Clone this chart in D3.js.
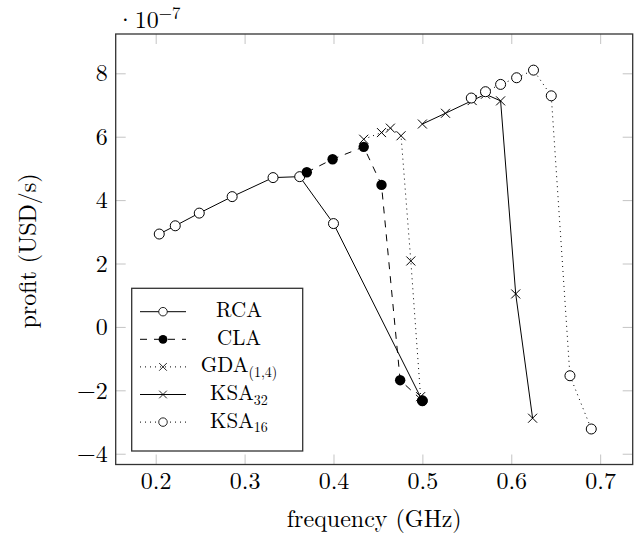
<!DOCTYPE html>
<html>
<head>
<meta charset="utf-8">
<script src="https://d3js.org/d3.v7.min.js"></script>
<style>
  body { margin: 0; background: #fff; }
  svg text { font-family: "Latin Modern Roman", "CMU Serif", "Liberation Serif", serif; fill: #000; }
</style>
</head>
<body>
<div id="chart"></div>
<script>
// series (frequency in GHz, profit in 1e-7 USD/s)
var rcaFreq   = [0.204, 0.222, 0.249, 0.286, 0.332, 0.362, 0.400, 0.500];
var rcaProfit = [2.93, 3.19, 3.59, 4.11, 4.71, 4.74, 3.26, -2.33];

var claFreq   = [0.370, 0.399, 0.434, 0.454, 0.475, 0.500];
var claProfit = [4.88, 5.29, 5.68, 4.48, -1.68, -2.33];

var gdaFreq   = [0.434, 0.454, 0.464, 0.476, 0.487, 0.498];
var gdaProfit = [5.92, 6.13, 6.27, 6.03, 2.08, -2.2];

var ksa32Freq   = [0.500, 0.526, 0.556, 0.571, 0.588, 0.605, 0.624];
var ksa32Profit = [6.40, 6.74, 7.14, 7.34, 7.13, 1.04, -2.88];

var ksa16Freq   = [0.555, 0.571, 0.588, 0.606, 0.625, 0.645, 0.666, 0.690];
var ksa16Profit = [7.22, 7.42, 7.65, 7.86, 8.10, 7.29, -1.54, -3.22];

var xTicks = [0.2, 0.3, 0.4, 0.5, 0.6, 0.7];
var yTicks = [-4, -2, 0, 2, 4, 6, 8];

var width = 634, height = 538;
var margin = {top: 34, right: 1.3, bottom: 73.5, left: 115.7};
var iw = width - margin.left - margin.right;
var ih = height - margin.top - margin.bottom;

var svg = d3.select("#chart").append("svg")
    .attr("width", width)
    .attr("height", height);

svg.append("rect").attr("width", width).attr("height", height).attr("fill", "#fff");

var g = svg.append("g").attr("transform", "translate(" + margin.left + "," + margin.top + ")");

var x = d3.scaleLinear().domain([0.155, 0.7366]).range([0, iw]);
var y = d3.scaleLinear().domain([-4.34, 9.24]).range([ih, 0]);

function styleAxis(sel) {
    sel.select(".domain").remove();
    sel.selectAll(".tick line").attr("stroke", "#c4c4c4").attr("stroke-width", 1);
    sel.selectAll(".tick text").attr("font-size", 24).attr("font-family", null);
    sel.attr("font-family", null);
}

g.append("g").attr("transform", "translate(0," + ih + ")")
    .call(d3.axisBottom(x).tickValues(xTicks).tickFormat(d3.format(".1f")).tickSizeInner(-10).tickSizeOuter(0).tickPadding(7.5))
    .call(styleAxis);
g.append("g")
    .call(d3.axisTop(x).tickValues(xTicks).tickFormat("").tickSizeInner(-10).tickSizeOuter(0))
    .call(styleAxis);
g.append("g")
    .call(d3.axisLeft(y).tickValues(yTicks).tickFormat(d3.format("d")).tickSizeInner(-10).tickSizeOuter(0).tickPadding(8))
    .call(styleAxis);
g.append("g").attr("transform", "translate(" + iw + ",0)")
    .call(d3.axisRight(y).tickValues(yTicks).tickFormat("").tickSizeInner(-10).tickSizeOuter(0))
    .call(styleAxis);

// frame
g.append("rect")
    .attr("width", iw).attr("height", ih)
    .attr("fill", "none").attr("stroke", "#333").attr("stroke-width", 1.3);

var series = [
    {name: "RCA", fx: rcaFreq, py: rcaProfit, dash: null, mark: "circle"},
    {name: "CLA", fx: claFreq, py: claProfit, dash: "7,7", mark: "dot"},
    {name: "GDA", sub: "(1,4)", fx: gdaFreq, py: gdaProfit, dash: "1,4", mark: "cross"},
    {name: "KSA", sub: "32", fx: ksa32Freq, py: ksa32Profit, dash: null, mark: "cross"},
    {name: "KSA", sub: "16", fx: ksa16Freq, py: ksa16Profit, dash: "1,4", mark: "circle"}
];

var line = d3.line().x(function(d) { return x(d[0]); }).y(function(d) { return y(d[1]); });

function drawMark(sel, type) {
    if (type === "circle") {
        sel.append("circle").attr("r", 5).attr("fill", "#fff").attr("stroke", "#000").attr("stroke-width", 1);
    } else if (type === "dot") {
        sel.append("circle").attr("r", 5.2).attr("fill", "#000");
    } else {
        sel.append("path").attr("d", "M-4.5,-4.5L4.5,4.5M-4.5,4.5L4.5,-4.5")
            .attr("stroke", "#000").attr("stroke-width", 1).attr("fill", "none");
    }
}

series.forEach(function(s) {
    var pts = s.fx.map(function(f, i) { return [f, s.py[i]]; });
    g.append("path")
        .datum(pts)
        .attr("d", line)
        .attr("fill", "none")
        .attr("stroke", "#000")
        .attr("stroke-width", 1)
        .attr("stroke-dasharray", s.dash);
    g.append("g").selectAll("g")
        .data(pts)
        .enter().append("g")
        .attr("transform", function(d) { return "translate(" + x(d[0]) + "," + y(d[1]) + ")"; })
        .each(function() { drawMark(d3.select(this), s.mark); });
});

// legend
var leg = svg.append("g").attr("transform", "translate(131.7,288.3)");
leg.append("rect").attr("width", 171).attr("height", 162.7)
    .attr("fill", "#fff").attr("stroke", "#333").attr("stroke-width", 1.3);

series.forEach(function(s, i) {
    var cy = 23.4 + i * 27.6;
    var row = leg.append("g").attr("transform", "translate(0," + cy + ")");
    row.append("line").attr("x1", 8.3).attr("x2", 54.3).attr("y1", 0).attr("y2", 0)
        .attr("stroke", "#000").attr("stroke-width", 1).attr("stroke-dasharray", s.dash);
    drawMark(row.append("g").attr("transform", "translate(31.3,0) scale(0.85)"), s.mark);
    var t = row.append("text").attr("x", 107.3).attr("y", 5.5)
        .attr("text-anchor", "middle").attr("font-size", 21).text(s.name);
    if (s.sub) {
        t.append("tspan").attr("font-size", 14).attr("dy", 4.5).text(s.sub);
    }
});

// exponent
var ex = svg.append("text").attr("x", 116).attr("y", 28).attr("font-size", 24);
ex.append("tspan").text("\u00b710");
ex.append("tspan").attr("font-size", 17).attr("dy", -9).text("\u22127");

// axis labels
svg.append("text")
    .attr("x", margin.left + iw / 2).attr("y", 527)
    .attr("text-anchor", "middle").attr("font-size", 24)
    .text("frequency (GHz)");

svg.append("text")
    .attr("transform", "translate(36,251) rotate(-90)")
    .attr("text-anchor", "middle").attr("font-size", 24)
    .text("profit (USD/s)");
</script>
</body>
</html>
